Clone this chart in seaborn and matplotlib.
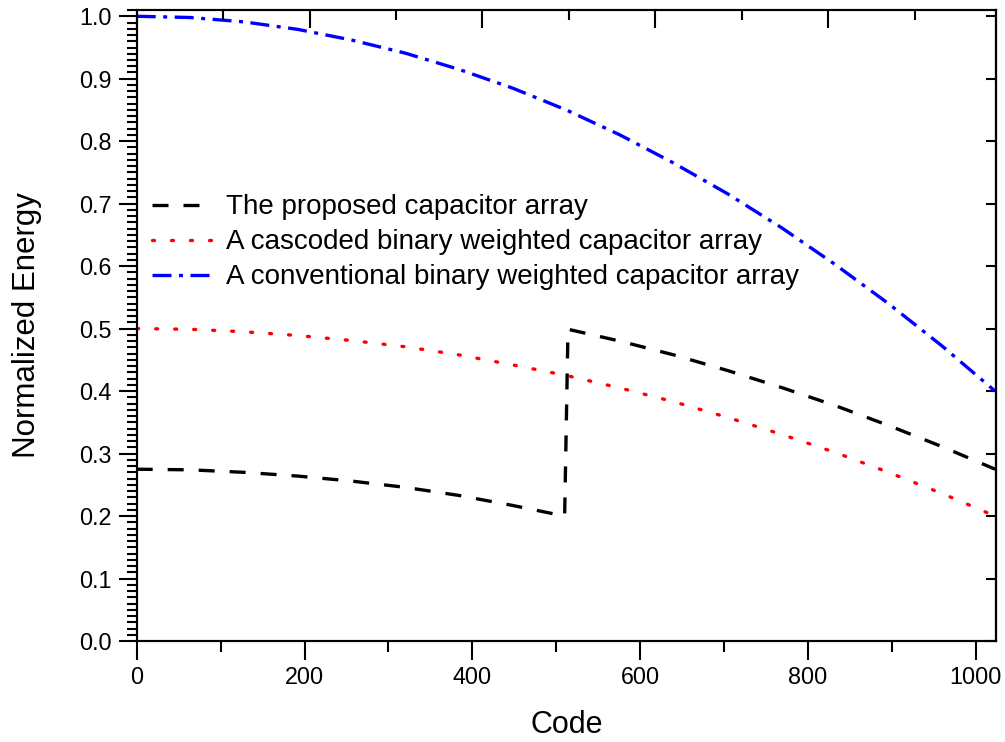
import numpy as np
import pandas as pd
import matplotlib
matplotlib.use("Agg")
import matplotlib.pyplot as plt
from matplotlib.ticker import MultipleLocator, FormatStrFormatter
import seaborn as sns

# ---- data ----
codes = [0, 64, 128, 192, 256, 320, 384, 448, 512, 576, 640, 704, 768, 832, 896, 960, 1023]
conventional = [1.000, 0.998, 0.991, 0.979, 0.962, 0.941, 0.915, 0.885, 0.850,
                0.810, 0.765, 0.716, 0.662, 0.603, 0.540, 0.472, 0.400]
cascoded = [0.500, 0.499, 0.495, 0.489, 0.481, 0.471, 0.458, 0.442, 0.425,
            0.405, 0.383, 0.358, 0.331, 0.302, 0.270, 0.236, 0.200]
proposed_codes = [0, 64, 128, 192, 256, 320, 384, 448, 510, 514, 576, 640, 704, 768, 832, 896, 960, 1023]
proposed = [0.275, 0.274, 0.270, 0.264, 0.256, 0.246, 0.233, 0.217, 0.200,
            0.499, 0.480, 0.458, 0.433, 0.406, 0.377, 0.345, 0.311, 0.275]

labels = ["The proposed capacitor array",
          "A cascoded binary weighted capacitor array",
          "A conventional binary weighted capacitor array"]
y_ticks = [0.0, 0.1, 0.2, 0.3, 0.4, 0.5, 0.6, 0.7, 0.8, 0.9, 1.0]
x_ticks = [0, 200, 400, 600, 800, 1000]

sns.set_style("ticks")
plt.rcParams["font.family"] = ["Liberation Sans", "DejaVu Sans"]
plt.rcParams["axes.linewidth"] = 1.5
plt.rcParams["text.color"] = "black"
plt.rcParams["axes.labelcolor"] = "black"
plt.rcParams["axes.edgecolor"] = "black"
plt.rcParams["xtick.color"] = "black"
plt.rcParams["ytick.color"] = "black"
plt.rcParams["xtick.labelcolor"] = "black"
plt.rcParams["ytick.labelcolor"] = "black"

fig = plt.figure(figsize=(10.05, 7.42), dpi=100)
ax = fig.add_axes([0.1360, 0.1361, 0.8550, 0.8504])

lw = 2.4
sns.lineplot(x=proposed_codes, y=proposed, ax=ax, color="black", lw=lw,
             linestyle=(0, (4.8, 4.5)), label=labels[0], errorbar=None, sort=False)
sns.lineplot(x=codes, y=cascoded, ax=ax, color="#ff0000", lw=lw,
             linestyle=(0, (0.6, 5.1)), dash_capstyle="round",
             label=labels[1], errorbar=None)
sns.lineplot(x=codes, y=conventional, ax=ax, color="#0000ff", lw=lw,
             linestyle=(0, (5.7, 2.25, 1.2, 2.25)), label=labels[2], errorbar=None)

ax.set_xlim(0, 1024)
ax.set_ylim(0, 1.01)
ax.set_xticks(x_ticks)
ax.set_yticks(y_ticks)
ax.xaxis.set_minor_locator(MultipleLocator(100))
ax.yaxis.set_minor_locator(MultipleLocator(0.01))
ax.yaxis.set_major_formatter(FormatStrFormatter("%.1f"))

ax.tick_params(axis="both", which="major", direction="out", width=1.5,
               labelsize=16.8, colors="black")
ax.tick_params(axis="x", which="major", length=14, pad=4)
ax.tick_params(axis="y", which="major", length=13, pad=5)
ax.tick_params(axis="x", which="minor", direction="out", length=8, width=1.5)
ax.tick_params(axis="y", which="minor", direction="out", length=7, width=1.5)

for s in ax.spines.values():
    s.set_visible(True)
    s.set_linewidth(1.5)
    s.set_color("black")

# top axis ticks (inward, no labels)
axt = ax.twiny()
axt.set_xlim(0, 994)
axt.set_xticks(range(0, 1000, 200))
axt.xaxis.set_minor_locator(MultipleLocator(100))
axt.tick_params(axis="x", which="major", direction="in", length=13, width=1.5,
                labeltop=False, colors="black")
axt.tick_params(axis="x", which="minor", direction="in", length=7, width=1.5, colors="black")
axt.yaxis.set_visible(False)
for s in axt.spines.values():
    s.set_linewidth(1.5)
    s.set_color("black")

# right axis ticks (inward, no labels)
axr = ax.secondary_yaxis("right")
axr.set_yticks(y_ticks)
axr.tick_params(axis="y", which="major", direction="in", length=7, width=1.5,
                labelright=False, colors="black")
axr.spines["right"].set_linewidth(1.5)
axr.spines["right"].set_color("black")

ax.set_xlabel("Code", fontsize=22, labelpad=15, color="black")
ax.set_ylabel("Normalized Energy", fontsize=22.5, labelpad=27, color="black")

leg = ax.legend(loc="center left", bbox_to_anchor=(0.0178, 0.6318), frameon=False,
                fontsize=20, handlelength=2.2, handletextpad=0.45, borderpad=0,
                borderaxespad=0, labelspacing=0.32)
for t in leg.get_texts():
    t.set_color("black")

fig.savefig("out.png", dpi=100)
